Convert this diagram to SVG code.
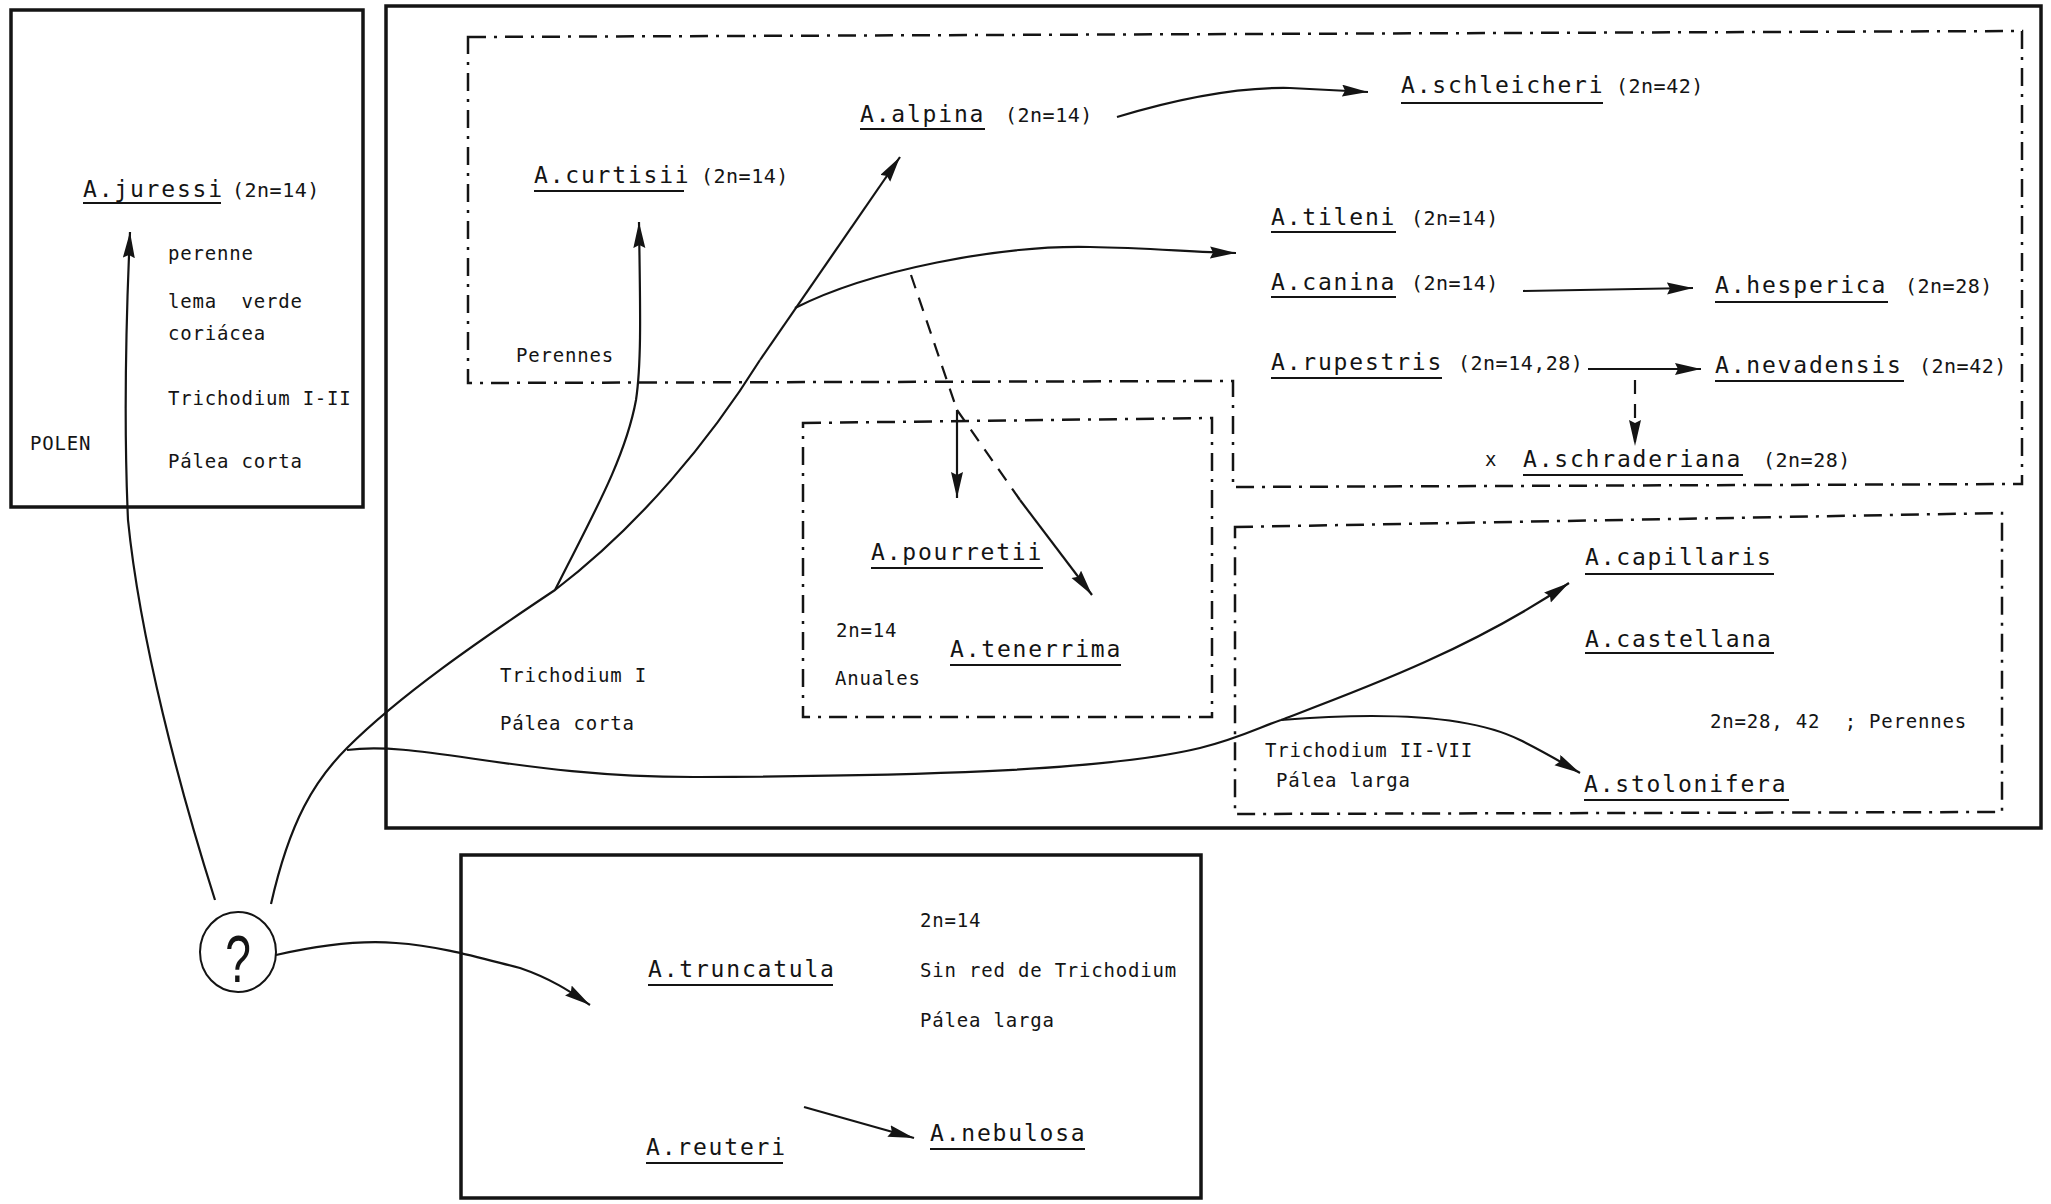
<svg xmlns="http://www.w3.org/2000/svg" width="2051" height="1204" viewBox="0 0 2051 1204">
<defs>
<style>
.box{fill:none;stroke:#141414;stroke-width:3.5}
.dd{fill:none;stroke:#141414;stroke-width:2.5;stroke-dasharray:18 8 3 8}
.ln{fill:none;stroke:#141414;stroke-width:2.2}
.arr{marker-end:url(#ah)}
.dash{stroke-dasharray:14 10}
.sp{font-family:"DejaVu Sans Mono",monospace;font-size:23px;letter-spacing:1.8px;fill:#141414}
.sm{font-family:"DejaVu Sans Mono",monospace;font-size:19px;letter-spacing:0.8px;fill:#141414}
.cn{font-family:"DejaVu Sans Mono",monospace;font-size:20px;letter-spacing:0.5px;fill:#141414}
.ul{stroke:#141414;stroke-width:2}
</style>
<marker id="ah" markerUnits="userSpaceOnUse" markerWidth="30" markerHeight="14" refX="26" refY="6" orient="auto">
<path d="M0,0 L26,6 L0,12 L3,6 Z" fill="#141414"/>
</marker>
</defs>
<rect width="2051" height="1204" fill="#fff"/>

<g id="frames">
<rect id="box-juressi" class="box" x="11" y="10" width="352" height="497"/>
<rect id="box-main" class="box" x="386" y="6" width="1655" height="822"/>
<rect id="box-truncatula" class="box" x="461" y="855" width="740" height="343"/>
<path id="zone-perennes" class="dd" d="M468,37 L2022,31 L2022,484 L1233,487 L1233,381 L468,383 Z"/>
<path id="zone-anuales" class="dd" d="M803,423 L1212,418 L1212,717 L803,717 Z"/>
<path id="zone-trichodium" class="dd" d="M1235,527 L2002,513 L2002,812 L1235,814 Z"/>
</g>

<g id="connectors">
<path class="ln arr" d="M215,900 C180,790 140,640 128,520 C124,430 126,320 130,232"/>
<path class="ln" d="M271,904 C290,820 315,780 347,748 C400,695 480,640 555,590 C640,525 710,440 760,360"/>
<path class="ln arr" d="M760,360 L900,157"/>
<path class="ln arr" d="M555,590 C590,520 625,460 636,400 C642,360 640,300 639,222"/>
<path class="ln arr" d="M795,308 C870,270 1000,245 1090,247 C1150,248 1190,252 1236,253"/>
<path class="ln dash" d="M911,275 L957,410"/>
<path class="ln arr" d="M957,410 L957,498"/>
<path class="ln dash" d="M957,410 L1020,500"/>
<path class="ln arr" d="M1020,500 L1092,595"/>
<path class="ln arr" d="M1117,117 C1180,98 1240,87 1290,88 L1368,92"/>
<path class="ln arr" d="M1523,291 L1693,288"/>
<path class="ln arr" d="M1588,369 L1701,369"/>
<path class="ln arr dash" d="M1635,380 L1635,446"/>
<path class="ln" d="M347,750 C420,740 520,778 700,777 C900,776 1100,772 1200,748 C1240,738 1260,727 1281,720"/>
<path class="ln arr" d="M1281,720 C1360,690 1470,650 1569,583"/>
<path class="ln arr" d="M1281,720 C1380,712 1470,715 1520,740 C1548,754 1566,765 1580,773"/>
<path class="ln arr" d="M276,955 C320,945 360,940 396,943 C440,946 480,958 520,968 C555,980 575,995 590,1005"/>
<path class="ln arr" d="M804,1107 L914,1138"/>
</g>

<g id="node-juressi">
<text class="sp" x="83" y="197">A.juressi</text><line class="ul" x1="83" y1="203" x2="221" y2="203"/>
<text class="cn" x="232" y="197">(2n=14)</text>
<text class="sm" x="168" y="260">perenne</text>
<text class="sm" x="168" y="308" xml:space="preserve">lema  verde</text>
<text class="sm" x="168" y="340">coriácea</text>
<text class="sm" x="168" y="405">Trichodium I-II</text>
<text class="sm" x="30" y="450">POLEN</text>
<text class="sm" x="168" y="468">Pálea corta</text>
</g>

<g id="node-question">
<ellipse cx="238" cy="952" rx="38" ry="40" fill="none" stroke="#141414" stroke-width="2"/>
<text x="340" y="982" transform="scale(0.7,1)" text-anchor="middle" font-family="Liberation Sans,sans-serif" font-size="66" fill="#141414">?</text>
</g>

<g id="node-curtisii">
<text class="sp" x="534" y="183">A.curtisii</text><line class="ul" x1="534" y1="191" x2="684" y2="191"/>
<text class="cn" x="701" y="183">(2n=14)</text>
<text class="sm" x="516" y="362">Perennes</text>
</g>
<g id="node-alpina">
<text class="sp" x="860" y="122">A.alpina</text><line class="ul" x1="860" y1="129" x2="985" y2="129"/>
<text class="cn" x="1005" y="122">(2n=14)</text>
</g>
<g id="node-schleicheri">
<text class="sp" x="1401" y="93">A.schleicheri</text><line class="ul" x1="1401" y1="103" x2="1603" y2="103"/>
<text class="cn" x="1616" y="93">(2n=42)</text>
</g>
<g id="node-tileni">
<text class="sp" x="1271" y="225">A.tileni</text><line class="ul" x1="1271" y1="232" x2="1396" y2="232"/>
<text class="cn" x="1411" y="225">(2n=14)</text>
</g>
<g id="node-canina">
<text class="sp" x="1271" y="290">A.canina</text><line class="ul" x1="1271" y1="297" x2="1396" y2="297"/>
<text class="cn" x="1411" y="290">(2n=14)</text>
</g>
<g id="node-hesperica">
<text class="sp" x="1715" y="293">A.hesperica</text><line class="ul" x1="1715" y1="302" x2="1888" y2="302"/>
<text class="cn" x="1905" y="293">(2n=28)</text>
</g>
<g id="node-rupestris">
<text class="sp" x="1271" y="370">A.rupestris</text><line class="ul" x1="1271" y1="378" x2="1442" y2="378"/>
<text class="cn" x="1458" y="370">(2n=14,28)</text>
</g>
<g id="node-nevadensis">
<text class="sp" x="1715" y="373">A.nevadensis</text><line class="ul" x1="1715" y1="381" x2="1904" y2="381"/>
<text class="cn" x="1919" y="373">(2n=42)</text>
</g>
<g id="node-schraderiana">
<text class="sm" x="1485" y="466">x</text>
<text class="sp" x="1523" y="467">A.schraderiana</text><line class="ul" x1="1523" y1="475" x2="1743" y2="475"/>
<text class="cn" x="1763" y="467">(2n=28)</text>
</g>
<g id="node-pourretii">
<text class="sp" x="871" y="560">A.pourretii</text><line class="ul" x1="871" y1="568" x2="1043" y2="568"/>
<text class="sm" x="836" y="637">2n=14</text>
<text class="sm" x="835" y="685">Anuales</text>
</g>
<g id="node-tenerrima">
<text class="sp" x="950" y="657">A.tenerrima</text><line class="ul" x1="950" y1="665" x2="1121" y2="665"/>
</g>
<g id="node-trichodium-i">
<text class="sm" x="500" y="682">Trichodium I</text>
<text class="sm" x="500" y="730">Pálea corta</text>
</g>
<g id="node-capillaris">
<text class="sp" x="1585" y="565">A.capillaris</text><line class="ul" x1="1585" y1="574" x2="1774" y2="574"/>
</g>
<g id="node-castellana">
<text class="sp" x="1585" y="647">A.castellana</text><line class="ul" x1="1585" y1="653" x2="1774" y2="653"/>
<text class="sm" x="1710" y="728" xml:space="preserve">2n=28, 42  ; Perennes</text>
<text class="sm" x="1265" y="757">Trichodium II-VII</text>
<text class="sm" x="1276" y="787">Pálea larga</text>
</g>
<g id="node-stolonifera">
<text class="sp" x="1584" y="792">A.stolonifera</text><line class="ul" x1="1584" y1="800" x2="1789" y2="800"/>
</g>
<g id="node-truncatula">
<text class="sp" x="648" y="977">A.truncatula</text><line class="ul" x1="648" y1="985" x2="833" y2="985"/>
<text class="sm" x="920" y="927">2n=14</text>
<text class="sm" x="920" y="977">Sin red de Trichodium</text>
<text class="sm" x="920" y="1027">Pálea larga</text>
</g>
<g id="node-reuteri">
<text class="sp" x="646" y="1155">A.reuteri</text><line class="ul" x1="646" y1="1163" x2="783" y2="1163"/>
</g>
<g id="node-nebulosa">
<text class="sp" x="930" y="1141">A.nebulosa</text><line class="ul" x1="930" y1="1149" x2="1085" y2="1149"/>
</g>
</svg>
